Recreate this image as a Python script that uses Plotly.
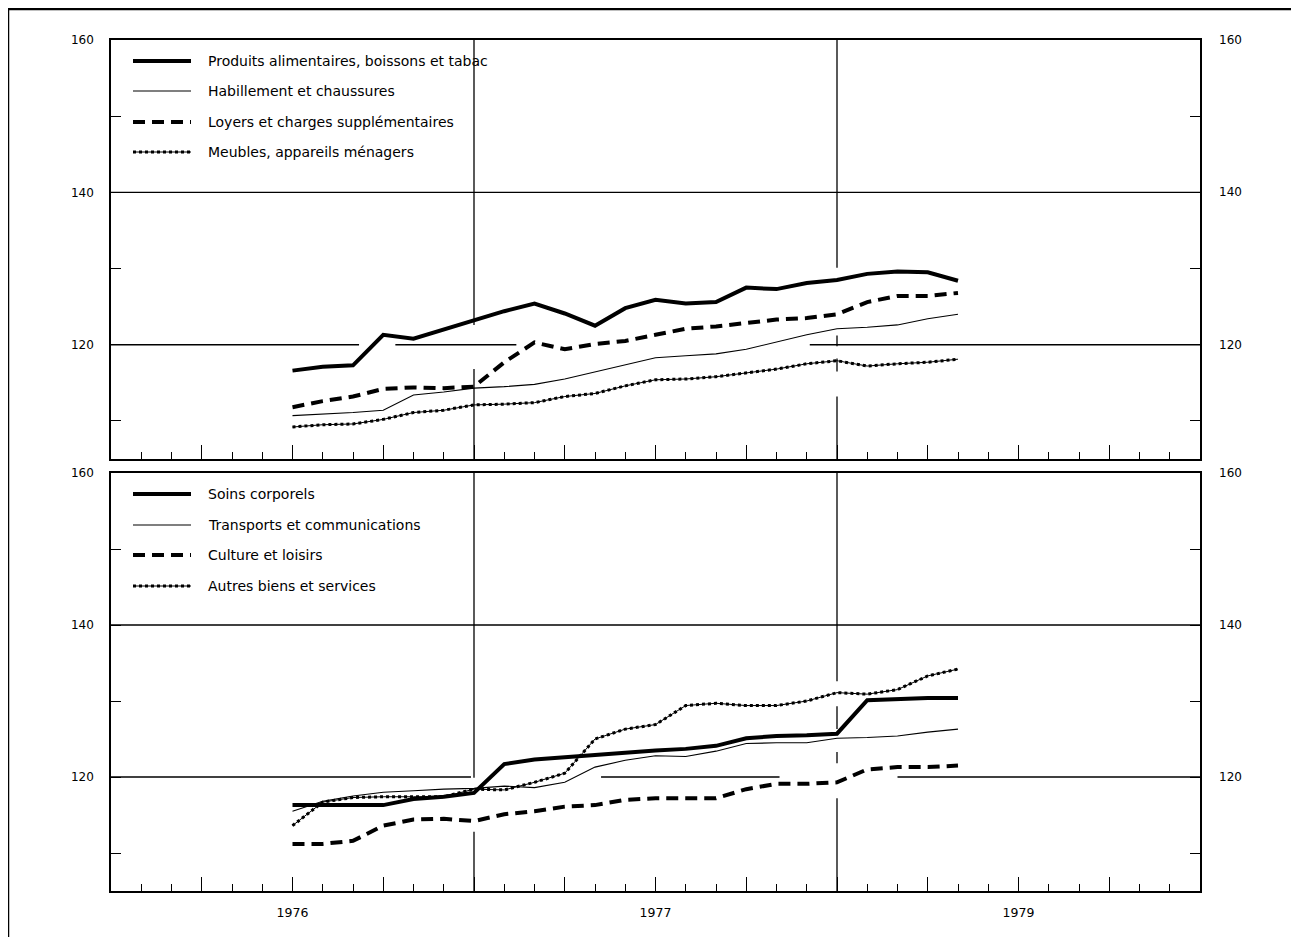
import plotly.graph_objects as go

# months counted from an arbitrary origin; 1976 label sits at month 6
months = [6, 7, 8, 9, 10, 11, 12, 13, 14, 15, 16, 17, 18, 19, 20, 21, 22, 23, 24, 25, 26, 27, 28]

# top panel
alimentaires = [116.6, 117.1, 117.3, 121.3, 120.8, 122.0, 123.2, 124.4, 125.4, 124.1, 122.5, 124.8,
                125.9, 125.4, 125.6, 127.5, 127.3, 128.1, 128.5, 129.3, 129.6, 129.5, 128.4]
habillement = [110.7, 110.9, 111.1, 111.4, 113.4, 113.8, 114.3, 114.5, 114.8, 115.5, 116.4, 117.4,
               118.3, 118.55, 118.8, 119.4, 120.3, 121.3, 122.1, 122.3, 122.6, 123.4, 124.0]
loyers = [111.8, 112.6, 113.2, 114.2, 114.4, 114.3, 114.5, 117.7, 120.3, 119.4, 120.1, 120.5,
          121.3, 122.1, 122.4, 122.9, 123.3, 123.5, 124.0, 125.6, 126.4, 126.4, 126.8]
meubles = [109.2, 109.5, 109.6, 110.2, 111.1, 111.4, 112.1, 112.2, 112.4, 113.2, 113.6, 114.6,
           115.4, 115.5, 115.8, 116.3, 116.8, 117.5, 117.9, 117.2, 117.5, 117.7, 118.1]

# bottom panel
soins = [116.3, 116.3, 116.3, 116.3, 117.1, 117.4, 117.9, 121.7, 122.3, 122.6, 122.9, 123.3,
         123.5, 123.7, 124.1, 125.1, 125.4, 125.5, 125.7, 130.1, 130.3, 130.4, 130.4]
transports = [115.5, 116.8, 117.5, 118.0, 118.2, 118.4, 118.5, 118.8, 118.6, 119.3, 121.3, 122.2,
              122.8, 122.7, 123.4, 124.4, 124.5, 124.5, 125.1, 125.2, 125.4, 125.9, 126.3]
culture = [111.2, 111.2, 111.6, 113.6, 114.4, 114.5, 114.2, 115.1, 115.5, 116.1, 116.3, 117.0,
           117.2, 117.2, 117.2, 118.4, 119.1, 119.1, 119.3, 121.0, 121.3, 121.3, 121.5]
autres = [113.6, 116.7, 117.3, 117.4, 117.4, 117.4, 118.4, 118.3, 119.3, 120.5, 125.0, 126.3,
          126.9, 129.4, 129.7, 129.4, 129.4, 130.0, 131.1, 130.9, 131.5, 133.3, 134.2]

year_ticks = [6, 18, 30]
year_labels = ["1976", "1977", "1979"]
y_labels = [120, 140, 160]

# page is shown with an 8px body margin, so the figure is shifted/shrunk by that
OFF = 8
W, H = 1299, 937
L, R, T, B = 111, 1200, 40, 891
FONT = "DejaVu Sans, Verdana, sans-serif"


def px(x):
    return (x - L) / (R - L)


def py(y):
    return (B - y) / (B - T)


thick = dict(color="black", width=4)
thin = dict(color="black", width=1.1)
dashed = dict(color="black", width=4, dash="12px,7px")
dotted = dict(color="black", width=3, dash="dot")

fig = go.Figure()


def add_series(y, style, xa, ya, name):
    if style is dotted:
        fig.add_trace(go.Scatter(x=months, y=y, mode="lines", line=dict(color="black", width=1),
                                 xaxis=xa, yaxis=ya, showlegend=False, hoverinfo="skip"))
    fig.add_trace(go.Scatter(x=months, y=y, mode="lines", line=style, name=name,
                             xaxis=xa, yaxis=ya, showlegend=False))


top = [("Produits alimentaires, boissons et tabac", alimentaires, thick),
       ("Habillement et chaussures", habillement, thin),
       ("Loyers et charges supplémentaires", loyers, dashed),
       ("Meubles, appareils ménagers", meubles, dotted)]
bottom = [("Soins corporels", soins, thick),
          ("Transports et communications", transports, thin),
          ("Culture et loisirs", culture, dashed),
          ("Autres biens et services", autres, dotted)]

shapes = []
annotations = []

# grid segments (broken where the curves pass), drawn before the data
grid_h = {"y": [(140, 0, 36), (120, 0, 8.2), (120, 9.4, 13.4), (120, 23.1, 36)],
          "y2": [(140, 0, 36), (120, 0, 11.9), (120, 16.2, 22.1), (120, 26.0, 36)]}
grid_v = {"y": [(12, 160, 122.6), (12, 116.8, 105), (24, 160, 130.1), (24, 118.2, 116.5),
                (24, 121.2, 119.8), (24, 113.2, 105)],
          "y2": [(12, 160, 119.9), (12, 112.8, 105), (24, 160, 132.6), (24, 129.3, 126.3),
                 (24, 123.3, 121.8), (24, 117.2, 105)]}
for ya, xa in (("y", "x"), ("y2", "x2")):
    for yv, a, b in grid_h[ya]:
        shapes.append(dict(type="line", xref=xa, yref=ya, x0=a, x1=b, y0=yv, y1=yv,
                           line=dict(color="black", width=1.3), layer="below"))
    for xv, a, b in grid_v[ya]:
        shapes.append(dict(type="line", xref=xa, yref=ya, x0=xv, x1=xv, y0=a, y1=b,
                           line=dict(color="black", width=1.3), layer="below"))

for xa, ya, series, rows in (("x", "y", top, [61, 91, 122, 152]),
                             ("x2", "y2", bottom, [494, 525, 555, 586])):
    for (name, vals, style), row in zip(series, rows):
        add_series(vals, style, xa, ya, name)
        if style is dotted:
            shapes.append(dict(type="line", xref="paper", yref="paper", x0=px(133), x1=px(191),
                               y0=py(row), y1=py(row), line=dict(color="black", width=1)))
        shapes.append(dict(type="line", xref="paper", yref="paper", x0=px(133), x1=px(191),
                           y0=py(row), y1=py(row), line=style))
        annotations.append(dict(text=name, xref="paper", yref="paper", x=px(206), y=py(row),
                                xanchor="left", yanchor="middle", showarrow=False,
                                font=dict(family=FONT, size=14, color="black")))
    for v in y_labels:
        annotations.append(dict(text=str(v), xref="paper", yref=ya, x=px(1217), y=v,
                                xanchor="left", yanchor="middle", showarrow=False,
                                font=dict(family=FONT, size=12, color="black")))

# outer frame of the page
shapes.append(dict(type="line", xref="paper", yref="paper", x0=px(8), x1=px(1310), y0=py(9), y1=py(9),
                   line=dict(color="black", width=2.5)))
shapes.append(dict(type="line", xref="paper", yref="paper", x0=px(8), x1=px(8), y0=py(9), y1=py(950),
                   line=dict(color="black", width=2.5)))

yaxis_common = dict(range=[105, 160], tickvals=[110, 120, 130, 140, 150, 160],
                    ticktext=["", "120", "", "140", "", "160"], ticks="inside", ticklen=10,
                    tickcolor="black", tickwidth=1.3, showgrid=False, zeroline=False,
                    showline=True, linecolor="black", linewidth=1.5, mirror="ticks",
                    ticklabelstandoff=13, tickfont=dict(family=FONT, size=12, color="black"))
xaxis_common = dict(range=[0, 36], tickvals=list(range(0, 37, 3)), ticks="inside", ticklen=14,
                    tickcolor="black", tickwidth=1.3, showgrid=False, zeroline=False,
                    showline=True, linecolor="black", linewidth=1.5, mirror=True,
                    minor=dict(dtick=1, tick0=0, ticks="inside", ticklen=7, tickcolor="black",
                               tickwidth=1.1, showgrid=False),
                    tickfont=dict(family=FONT, size=12.5, color="black"))

fig.update_layout(
    width=W - OFF, height=H - OFF,
    margin=dict(l=L - OFF, r=W - R, t=T - OFF, b=H - B),
    paper_bgcolor="white", plot_bgcolor="white",
    showlegend=False,
    xaxis=dict(xaxis_common, anchor="y",
               ticktext=[""] * 13),
    yaxis=dict(yaxis_common, anchor="x", domain=[py(459), 1]),
    xaxis2=dict(xaxis_common, anchor="y2",
                ticktext=[year_labels[year_ticks.index(t)] if t in year_ticks else ""
                          for t in range(0, 37, 3)],
                ticklabelstandoff=9),
    yaxis2=dict(yaxis_common, anchor="x2", domain=[0, py(473)]),
    shapes=shapes,
    annotations=annotations,
)

fig.write_html("out.html")
